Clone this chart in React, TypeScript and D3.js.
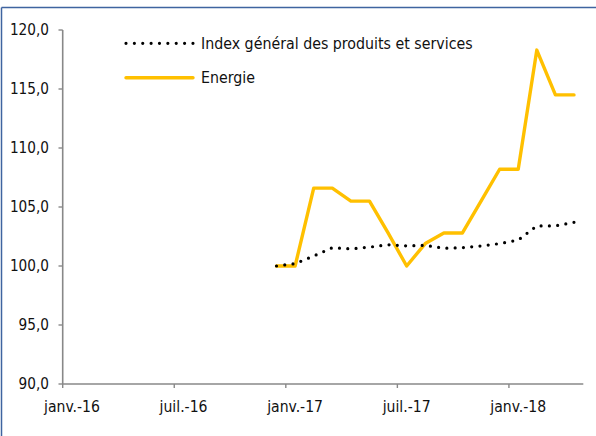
import React from 'react';
import * as d3 from 'd3';

// months shown on the axis (janv.-16 .. avr.-18)
const axisMonths = d3.timeMonth.range(new Date(2016, 0, 1), new Date(2018, 4, 1));
const tickMonths = ['2016-01', '2016-07', '2017-01', '2017-07', '2018-01'];
const tickLabels = ['janv.-16', 'juil.-16', 'janv.-17', 'juil.-17', 'janv.-18'];
const yTicks = [90, 95, 100, 105, 110, 115, 120];

// series dates
const months = [
  '2016-12', '2017-01', '2017-02', '2017-03', '2017-04', '2017-05', '2017-06', '2017-07', '2017-08',
  '2017-09', '2017-10', '2017-11', '2017-12', '2018-01', '2018-02', '2018-03', '2018-04',
];
const indexGeneral = [100.0, 100.2, 100.85, 101.55, 101.45, 101.6, 101.8, 101.7, 101.75, 101.5, 101.55, 101.7, 101.9, 102.2, 103.4, 103.4, 103.7];
const energie = [100.0, 100.0, 106.6, 106.6, 105.5, 105.5, 102.8, 100.0, 101.9, 102.8, 102.8, 105.5, 108.2, 108.2, 118.3, 114.5, 114.5];

const seriesNames = ['Index général des produits et services', 'Energie'];

const W = 596;
const H = 436;
const FONT = '"DejaVu Sans Condensed", "DejaVu Sans", sans-serif';
const monthKey = d3.timeFormat('%Y-%m');

export default function App() {
  const x = d3.scaleBand<string>()
    .domain(axisMonths.map(monthKey))
    .range([62.7, 583.3])
    .padding(0);
  const bw = x.bandwidth();
  const y = d3.scaleLinear().domain([90, 120]).range([384, 30]);

  const line = d3.line<number>()
    .x((_, i) => (x(months[i]) as number) + bw / 2)
    .y((d) => y(d));

  const fmt = (v: number) => d3.format('.1f')(v).replace('.', ',');

  return (
    <svg width={W} height={H} style={{ position: 'absolute', left: 0, top: 0, background: '#fff' }}
      fontFamily={FONT}>
      {/* frame */}
      <line x1={1.5} x2={W} y1={7.5} y2={7.5} stroke="#3f64a0" strokeWidth={1.5} />
      <line x1={1.5} x2={1.5} y1={7.5} y2={H} stroke="#3f64a0" strokeWidth={1.5} />

      {/* y axis */}
      <g>
        <line x1={62.7} x2={62.7} y1={y(120)} y2={y(90)} stroke="#888" strokeWidth={1.6} />
        {yTicks.map((t) => (
          <g key={t} transform={`translate(0,${y(t)})`}>
            <line x1={58.5} x2={62.7} stroke="#888" strokeWidth={1.4} />
            <text x={49} dy="0.36em" textAnchor="end" fontSize={15.2} fill="#111">{fmt(t)}</text>
          </g>
        ))}
      </g>

      {/* x axis */}
      <g>
        <line x1={62.7} x2={583.3} y1={y(90)} y2={y(90)} stroke="#888" strokeWidth={1.6} />
        {tickMonths.map((m, i) => {
          const tx = x(m) as number;
          return (
            <g key={m}>
              <line x1={tx} x2={tx} y1={y(90)} y2={y(90) + 4} stroke="#888" strokeWidth={1.4} />
              <text x={tx + bw / 2} y={412} textAnchor="middle" fontSize={15.6} fill="#111">{tickLabels[i]}</text>
            </g>
          );
        })}
      </g>

      {/* series */}
      <path d={line(energie) || ''} fill="none" stroke="#FFC000" strokeWidth={3.4}
        strokeLinejoin="round" strokeLinecap="round" />
      <path d={line(indexGeneral) || ''} fill="none" stroke="#000" strokeWidth={3.2}
        strokeDasharray="0 8.3" strokeLinecap="round" />

      {/* legend */}
      <line x1={126} x2={193} y1={43.3} y2={43.3} stroke="#000" strokeWidth={3.2}
        strokeDasharray="0 8.37" strokeLinecap="round" />
      <text x={201} y={48.5} fontSize={15.8} fill="#111">{seriesNames[0]}</text>
      <line x1={126} x2={193} y1={77.7} y2={77.7} stroke="#FFC000" strokeWidth={3.4} strokeLinecap="round" />
      <text x={201} y={82.7} fontSize={15.8} fill="#111">{seriesNames[1]}</text>
    </svg>
  );
}
